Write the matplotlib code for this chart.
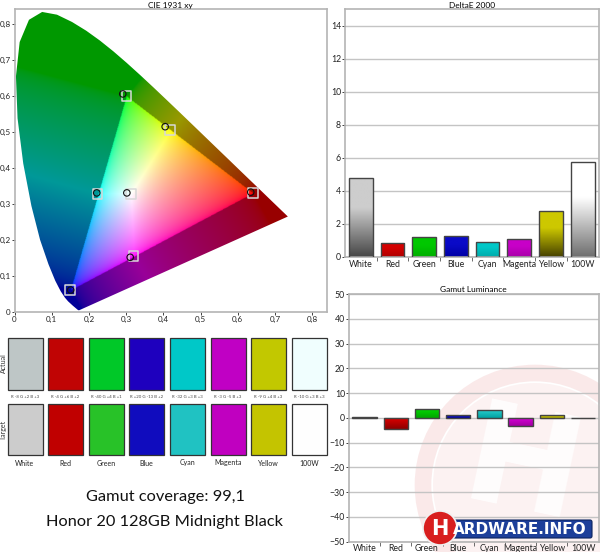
import numpy as np
import matplotlib
matplotlib.use("Agg")
import matplotlib.pyplot as plt
from matplotlib.patches import Polygon, Rectangle, Circle, FancyBboxPatch
from matplotlib.path import Path
from matplotlib.ticker import FuncFormatter

plt.rcParams['font.family'] = ['Lato', 'DejaVu Sans']

# --- data ---
names = ["White", "Red", "Green", "Blue", "Cyan", "Magenta", "Yellow", "100W"]
delta_e = [4.75, 0.85, 1.2, 1.25, 0.93, 1.07, 2.8, 5.75]
luminance = [0.2, -4.3, 3.4, 1.3, 3.2, -3.1, 1.0, 0.1]

rgb_diff = ["R -8 G +2 B +3", "R -4 G +6 B +2", "R -40 G +4 B +1", "R +20 G -13 B +2",
            "R -32 G +3 B +3", "R -3 G -5 B +3", "R -9 G +4 B +3", "R -10 G +3 B +3"]
actual_rgb = [(190, 198, 198), (192, 4, 4), (0, 200, 40), (30, 0, 190),
              (0, 200, 200), (192, 0, 196), (194, 200, 0), (240, 254, 254)]
target_rgb = [(204, 204, 204), (192, 0, 0), (40, 194, 40), (16, 12, 190),
              (32, 194, 194), (192, 0, 192), (196, 196, 0), (254, 254, 254)]

# CIE 1931 spectral locus (380-700 nm)
locus_x = [0.1741, 0.1733, 0.1714, 0.1689, 0.1644, 0.1566, 0.1440, 0.1355, 0.1241, 0.1096,
           0.0913, 0.0687, 0.0454, 0.0235, 0.0082, 0.0039, 0.0139, 0.0389, 0.0743, 0.1142,
           0.1547, 0.1929, 0.2296, 0.2658, 0.3016, 0.3373, 0.3731, 0.4087, 0.4441, 0.4788,
           0.5125, 0.5448, 0.5752, 0.6029, 0.6270, 0.6658, 0.6915, 0.7079, 0.7190, 0.7260,
           0.7334, 0.7347]
locus_y = [0.0050, 0.0048, 0.0051, 0.0069, 0.0109, 0.0177, 0.0297, 0.0399, 0.0578, 0.0868,
           0.1327, 0.2007, 0.2950, 0.4127, 0.5384, 0.6548, 0.7502, 0.8120, 0.8338, 0.8262,
           0.8059, 0.7816, 0.7543, 0.7243, 0.6923, 0.6589, 0.6245, 0.5896, 0.5547, 0.5202,
           0.4866, 0.4544, 0.4242, 0.3965, 0.3725, 0.3340, 0.3083, 0.2920, 0.2809, 0.2740,
           0.2666, 0.2653]

# gamut triangle (R, G, B)
gamut_x = [0.64, 0.30, 0.15]
gamut_y = [0.33, 0.60, 0.06]

# targets / measured: R, G, B, C, M, Y, W
target_x = [0.640, 0.301, 0.149, 0.223, 0.320, 0.419, 0.313]
target_y = [0.330, 0.600, 0.060, 0.329, 0.155, 0.506, 0.329]
meas_x = [0.635, 0.291, 0.151, 0.221, 0.311, 0.405, 0.302]
meas_y = [0.333, 0.606, 0.061, 0.331, 0.152, 0.515, 0.331]

# bar shading (top, bottom)
de_top = [(205, 205, 205), (212, 0, 0), (0, 200, 0), (10, 10, 200),
          (0, 200, 200), (200, 0, 200), (205, 200, 0), (255, 255, 255)]
de_bot = [(70, 70, 70), (175, 0, 0), (0, 175, 0), (0, 0, 165),
          (0, 170, 170), (170, 0, 170), (70, 65, 0), (110, 110, 110)]
lu_top = [(200, 200, 200), (220, 0, 0), (0, 215, 0), (30, 30, 210),
          (40, 205, 205), (215, 0, 215), (215, 210, 0), (200, 200, 200)]
lu_bot = [(150, 150, 150), (140, 0, 0), (0, 165, 0), (0, 0, 160),
          (0, 160, 160), (160, 0, 160), (170, 165, 0), (150, 150, 150)]

W, H = 600, 552
fig = plt.figure(figsize=(6, 5.52), dpi=100)
spine_c = '#b4b4b4'
tick_c = '#222222'


def px_axes(x0, y0, x1, y1):
    return fig.add_axes([x0 / W, 1 - y1 / H, (x1 - x0) / W, (y1 - y0) / H])


def style(ax, size=6.3):
    for s in ax.spines.values():
        s.set_color(spine_c)
        s.set_linewidth(1.2)
    ax.tick_params(colors=tick_c, labelsize=size, length=2, width=0.6, pad=0.8)


def shade_bars(ax, bars, tops, bots, stretch):
    t = np.clip(np.linspace(0, 1, 128) * stretch, 0, 1)[:, None, None]
    for b, ct, cb in zip(bars, tops, bots):
        ct = np.array(ct) / 255.0
        cb = np.array(cb) / 255.0
        img = cb + (ct - cb) * t
        x0, w = b.get_x(), b.get_width()
        y0, h = b.get_y(), b.get_height()
        ylo, yhi = min(y0, y0 + h), max(y0, y0 + h)
        im = ax.imshow(img, extent=(x0, x0 + w, ylo, yhi), origin='lower',
                       aspect='auto', zorder=2, interpolation='bilinear')
        im.set_clip_path(b)


def xy_to_srgb(px, py):
    xyz = np.stack([px / py, np.ones_like(px), (1 - px - py) / py], -1)
    M = np.array([[3.2406, -1.5372, -0.4986],
                  [-0.9689, 1.8758, 0.0415],
                  [0.0557, -0.2040, 1.0570]])
    lin = np.clip(xyz @ M.T, 0, None)
    lin = lin / (lin.max(axis=-1, keepdims=True) + 1e-9)
    return np.where(lin <= 0.0031308, 12.92 * lin, 1.055 * lin ** (1 / 2.4) - 0.055)


# --- background watermark (behind luminance chart) ---
wm = fig.add_axes([0, 0, 1, 1], zorder=0)
wm.set_xlim(0, W)
wm.set_ylim(H, 0)
wm.axis('off')
wm.add_patch(Circle((535, 485), 102, facecolor='#d03030', alpha=0.06, lw=0))
wm.add_patch(Circle((535, 485), 112, fill=False, edgecolor='#d03030', alpha=0.10, lw=12))
wm.text(522, 472, "H", fontsize=100, fontweight='bold', color='white', alpha=0.85,
        rotation=-12, ha='center', va='center', family='DejaVu Sans')

# --- CIE 1931 xy ---
ax = px_axes(14.5, 9, 327, 312)
ax.set_zorder(1)
gx = np.linspace(0.0005, 0.84, 520)
gy = np.linspace(0.0005, 0.842, 520)
XX, YY = np.meshgrid(gx, gy)
P = np.stack([XX, YY], -1)
tri_pts = np.column_stack([gamut_x, gamut_y])
inside = Path(tri_pts).contains_points(P.reshape(-1, 2)).reshape(XX.shape)
# outside the gamut: colour of the nearest point on the triangle, darkened
best = None
best_d = None
for k in range(3):
    A = tri_pts[k]
    B = tri_pts[(k + 1) % 3]
    AB = B - A
    t = np.clip(((P - A) @ AB) / (AB @ AB), 0, 1)[..., None]
    Q = A + t * AB
    d = ((P - Q) ** 2).sum(-1)
    if best is None:
        best, best_d = Q, d
    else:
        m = d < best_d
        best = np.where(m[..., None], Q, best)
        best_d = np.where(m, d, best_d)
src_x = np.where(inside, XX, best[..., 0])
src_y = np.where(inside, YY, best[..., 1])
srgb = xy_to_srgb(src_x, src_y)
srgb[~inside] *= 0.6
srgb = np.clip(srgb, 0, 1)
im = ax.imshow(srgb, extent=(0, 0.84, 0, 0.842), origin='lower', aspect='auto',
               interpolation='bilinear')
locus = Polygon(np.column_stack([locus_x, locus_y]), closed=True, facecolor='none',
                edgecolor='none', transform=ax.transData)
ax.add_patch(locus)
im.set_clip_path(locus)
ax.scatter(target_x, target_y, marker='s', s=50, facecolors='none',
           edgecolors='#d8d8d8', linewidths=1.1, zorder=3)
ax.scatter(meas_x, meas_y, marker='o', s=22, facecolors='none',
           edgecolors='#111111', linewidths=0.8, zorder=4)
ax.set_xlim(0, 0.84)
ax.set_ylim(0, 0.842)
ticks = np.arange(0, 0.81, 0.1)
fmt = FuncFormatter(lambda v, p: "0" if abs(v) < 1e-9 else f"{v:.1f}".replace(".", ","))
ax.set_xticks(ticks)
ax.set_yticks(ticks)
ax.xaxis.set_major_formatter(fmt)
ax.yaxis.set_major_formatter(fmt)
style(ax, 5.8)
ax.set_title("CIE 1931 xy", fontsize=6, pad=1)

# --- swatches ---
sw = px_axes(0, 330, 330, 470)
sw.set_xlim(0, 330)
sw.set_ylim(470, 330)
sw.axis('off')
for i in range(len(names)):
    x0 = 7.5 + i * 40.6
    sw.add_patch(Rectangle((x0, 337.5), 35, 52, facecolor=np.array(actual_rgb[i]) / 255,
                           edgecolor='#333333', lw=0.9))
    sw.add_patch(Rectangle((x0, 404), 35, 51, facecolor=np.array(target_rgb[i]) / 255,
                           edgecolor='#333333', lw=0.9))
    sw.text(x0 + 17.5, 396.5, rgb_diff[i], fontsize=3.1, color='#444444',
            ha='center', va='center')
    sw.text(x0 + 17.5, 463, names[i], fontsize=5, color='#222222',
            ha='center', va='center')
sw.text(3.5, 363, "Actual", rotation=90, fontsize=5, ha='center', va='center', color='#333333')
sw.text(3.5, 430, "Target", rotation=90, fontsize=5, ha='center', va='center', color='#333333')

fig.text(165 / W, 1 - 497 / H, "Gamut coverage: 99,1", fontsize=11.8,
         ha='center', va='center', color='#111111')
fig.text(165 / W, 1 - 522 / H, "Honor 20 128GB Midnight Black", fontsize=11.8,
         ha='center', va='center', color='#111111')

idx = np.arange(len(names))

# --- DeltaE 2000 ---
ax2 = px_axes(345, 9, 598.5, 257)
ax2.set_zorder(1)
ax2.set_ylim(0, 15)
ax2.set_yticks(range(0, 15, 2))
ax2.yaxis.grid(True, color='#c4c4c4', lw=1)
ax2.set_axisbelow(True)
bars = ax2.bar(idx, delta_e, width=0.75, facecolor='none', edgecolor='#444444',
               lw=1, zorder=3)
shade_bars(ax2, bars, de_top, de_bot, 1.6)
ax2.set_xlim(-0.5, 7.5)
ax2.set_ylim(0, 15)
ax2.set_xticks(idx, names)
ax2.set_xticks(idx[:-1] + 0.5, minor=True)
style(ax2)
ax2.tick_params(axis='x', which='major', length=0, pad=2)
ax2.tick_params(axis='x', which='minor', length=3, color='#555555')
ax2.set_title("DeltaE 2000", fontsize=6, pad=0.8)

# --- Gamut Luminance ---
ax3 = px_axes(349, 294, 598.5, 541.7)
ax3.set_zorder(1)
ax3.patch.set_alpha(0)
ax3.set_ylim(-50, 50)
ax3.set_yticks(range(-50, 51, 10))
ax3.yaxis.grid(True, color='#c4c4c4', lw=1)
ax3.set_axisbelow(True)
bars = ax3.bar(idx, luminance, width=0.78, facecolor='none', edgecolor='#444444',
               lw=1, zorder=3)
shade_bars(ax3, bars, lu_top, lu_bot, 1.0)
ax3.set_xlim(-0.5, 7.5)
ax3.set_ylim(-50, 50)
ax3.set_xticks(idx, names)
ax3.set_xticks(idx[:-1] + 0.5, minor=True)
style(ax3)
ax3.tick_params(axis='x', which='major', length=0, pad=1.5)
ax3.tick_params(axis='x', which='minor', length=3, color='#555555')
ax3.set_title("Gamut Luminance", fontsize=6, pad=1.5)

# --- logo banner on top ---
ov = fig.add_axes([0, 0, 1, 1], zorder=5)
ov.set_xlim(0, W)
ov.set_ylim(H, 0)
ov.axis('off')
ov.add_patch(FancyBboxPatch((448, 520), 144, 18, boxstyle="round,pad=0,rounding_size=2",
                            facecolor='#1d3f9a', edgecolor='#0c2460', lw=0.8))
ov.text(520, 529.5, "ARDWARE.INFO", fontsize=11, fontweight='bold', color='white',
        ha='center', va='center', family='DejaVu Sans')
ov.add_patch(Circle((440, 528), 17, facecolor='#d81e1e', edgecolor='#f0f0f0', lw=1.2))
ov.text(440, 529, "H", fontsize=15, fontweight='bold', color='white',
        ha='center', va='center', family='DejaVu Sans')

fig.savefig("out.png", dpi=100)
